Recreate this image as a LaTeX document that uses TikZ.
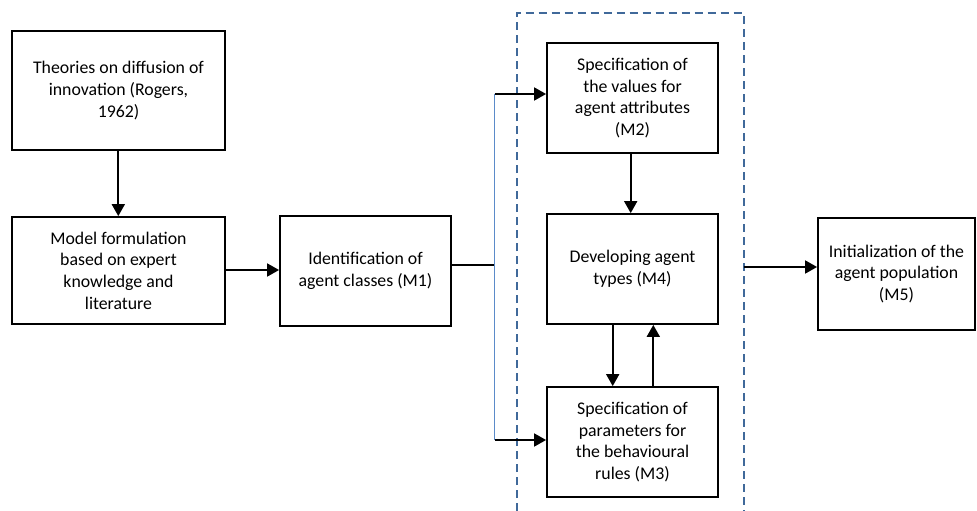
\documentclass[tikz,border=0pt]{standalone}
\usepackage{fontspec}
\setmainfont{Carlito}
\usetikzlibrary{arrows.meta}
\definecolor{hubblue}{HTML}{5B8BC9}
\definecolor{grpblue}{HTML}{40699A}
\begin{document}
\begin{tikzpicture}[x=1pt,y=-1pt,
  box/.style={draw=black, line width=1.8pt, align=center, inner sep=0pt,
    font=\fontsize{17.8}{21.7}\selectfont},
  conn/.style={line width=1.8pt, -{Triangle[length=12pt,width=13pt]}},
  plain/.style={line width=1.8pt},
  hub/.style={draw=hubblue, line width=1.6pt},
  grp/.style={draw=grpblue, line width=2pt, dash pattern=on 8pt off 5pt}]
\useasboundingbox (0,0) rectangle (977,511);
\fill[white] (0,0) rectangle (977,511);

\node[box, minimum width=213pt, minimum height=119pt] (A) at (118.5,90.5)
  {Theories on diffusion of\\innovation (Rogers,\\1962)};
\node[box, minimum width=213pt, minimum height=107pt] (B) at (118.5,270.5)
  {Model formulation\\based on expert\\knowledge and\\literature};
\node[box, minimum width=171pt, minimum height=110pt] (C) at (365.5,271)
  {Identification of\\agent classes (M1)};
\node[box, minimum width=171pt, minimum height=110pt] (M2) at (632.5,98)
  {Specification of\\the values for\\agent attributes\\(M2)};
\node[box, minimum width=171pt, minimum height=110pt] (M4) at (632.5,269)
  {Developing agent\\types (M4)};
\node[box, minimum width=171pt, minimum height=110pt] (M3) at (632.5,442)
  {Specification of\\parameters for\\the behavioural\\rules (M3)};
\node[box, minimum width=157pt, minimum height=112pt] (M5) at (896.5,274)
  {Initialization of the\\agent population\\(M5)};

% dashed group container (open at the bottom)
\coordinate (gBL) at (516.7,511);
\coordinate (gTL) at (516.7,13);
\coordinate (gTR) at (743.5,13);
\coordinate (gBR) at (743.5,511);
\draw[grp] (gBL) -- (gTL) -- (gTR) -- (gBR);

% hub
\coordinate (cj) at (494.5,265);
\coordinate (hubT) at (494.5,94);
\coordinate (hubB) at (494.5,440);
\coordinate (gE) at (743.5,267);

\draw[conn] (A.south -| 118.3,0) -- (B.north -| 118.3,0);
\draw[conn] (B.east |- 0,270) -- (C.west |- 0,270);
\draw[plain] (C.east |- cj) -- (cj);
\draw[hub] (hubT) -- (hubB);
\draw[conn] (hubT) -- (hubT -| M2.west);
\draw[conn] (hubB) -- (hubB -| M3.west);
\draw[conn] ([xshift=-1.8pt]M2.south) -- ([xshift=-1.8pt]M4.north);
\draw[conn] ([xshift=-19.8pt]M4.south) -- ([xshift=-19.8pt]M3.north);
\draw[conn] ([xshift=20.8pt]M3.north) -- ([xshift=20.8pt]M4.south);
\draw[conn] (gE) -- (gE -| M5.west);
\end{tikzpicture}
\end{document}
